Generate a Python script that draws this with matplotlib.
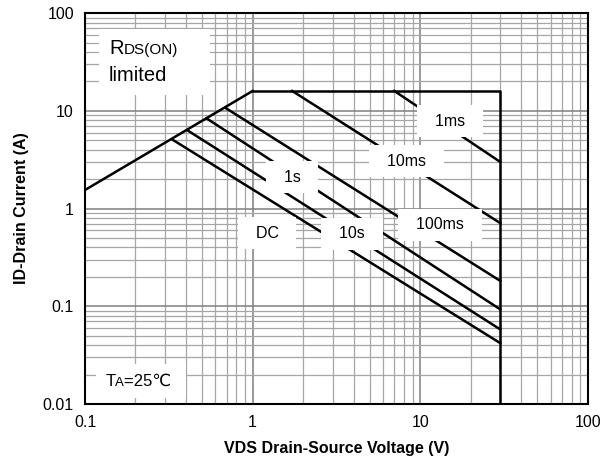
import matplotlib
matplotlib.use("Agg")
import matplotlib.pyplot as plt
from matplotlib.ticker import LogLocator, FixedLocator, FixedFormatter, NullFormatter
from matplotlib.offsetbox import TextArea, HPacker, VPacker, AnnotationBbox

plt.rcParams['font.family'] = ['Liberation Sans', 'DejaVu Sans']

# RDS(on) limit and package limits
rds_v = [0.1, 1.0]
rds_i = [1.55, 16.0]
limit_v = [1.0, 30.0, 30.0]
limit_i = [16.0, 16.0, 0.01]

# pulse-width lines
pulse_labels = ['1ms', '10ms', '100ms', '1s', '10s', 'DC']
pulse_v_start = [7.0, 1.72, 0.69, 0.53, 0.413, 0.336]
pulse_i_start = [16.0, 16.0, 10.7, 8.4, 6.25, 5.02]
pulse_v_end = [30.0, 30.0, 30.0, 30.0, 30.0, 30.0]
pulse_i_end = [3.0, 0.71, 0.182, 0.093, 0.058, 0.042]

# where each pulse label sits
label_v = [15.0, 8.3, 13.1, 1.72, 3.91, 1.22]
label_i = [7.86, 3.06, 0.68, 2.1, 0.55, 0.56]

x_ticks = [0.1, 1, 10, 100]
x_ticklabels = ['0.1', '1', '10', '100']
y_ticks = [0.01, 0.1, 1, 10, 100]
y_ticklabels = ['0.01', '0.1', '1', '10', '100']

fig = plt.figure(figsize=(6.03, 4.62), dpi=100)
ax = fig.add_axes([0.141, 0.1255, 0.834, 0.846])
ax.set_xscale('log')
ax.set_yscale('log')
ax.set_xlim(0.1, 100)
ax.set_ylim(0.01, 100)

ax.xaxis.set_major_locator(FixedLocator(x_ticks))
ax.xaxis.set_major_formatter(FixedFormatter(x_ticklabels))
ax.yaxis.set_major_locator(FixedLocator(y_ticks))
ax.yaxis.set_major_formatter(FixedFormatter(y_ticklabels))
for axis in (ax.xaxis, ax.yaxis):
    axis.set_minor_locator(LogLocator(base=10, subs=range(2, 10)))
    axis.set_minor_formatter(NullFormatter())

ax.grid(True, which='major', color='#7f7f7f', lw=1.1, zorder=0)
ax.grid(True, which='minor', color='#a6a6a6', lw=0.9, zorder=0)
ax.set_axisbelow(True)
ax.tick_params(which='both', length=0, labelsize=11.5, pad=8)

for sp in ax.spines.values():
    sp.set_linewidth(1.5)

ax.plot(rds_v, rds_i, color='black', lw=1.8, zorder=2)
ax.plot(limit_v, limit_i, color='black', lw=1.8, zorder=2)
for v0, i0, v1, i1 in zip(pulse_v_start, pulse_i_start, pulse_v_end, pulse_i_end):
    ax.plot([v0, v1], [i0, i1], color='black', lw=1.8, zorder=2)

for lab, v, i in zip(pulse_labels, label_v, label_i):
    ax.text(v, i, '  ' + lab + '  ', fontsize=11.5, ha='center', va='center', zorder=4,
            bbox=dict(boxstyle='square,pad=0.55', facecolor='white', edgecolor='none'))

# RDS(ON) limited note
big = dict(size=14.5, family=['Liberation Sans', 'DejaVu Sans'])
small = dict(size=11, family=['Liberation Sans', 'DejaVu Sans'])
row1 = HPacker(children=[TextArea('R', textprops=big), TextArea('DS(ON)', textprops=small),
                         TextArea('    ', textprops=big)],
               align='baseline', pad=0, sep=0)
row2 = TextArea('limited', textprops=big)
note = VPacker(children=[row1, row2], align='left', pad=0, sep=6)
ab = AnnotationBbox(note, (0.139, 40), xycoords='data', box_alignment=(0, 0.72),
                    frameon=True, pad=0.7, zorder=4,
                    bboxprops=dict(facecolor='white', edgecolor='none'))
ax.add_artist(ab)

# ambient temperature note
t_big = dict(size=12, family=['Liberation Sans', 'DejaVu Sans'])
t_small = dict(size=9.5, family=['Liberation Sans', 'DejaVu Sans'])
trow = HPacker(children=[TextArea('T', textprops=t_big), TextArea('A', textprops=t_small),
                         TextArea('=25℃ ', textprops=t_big)],
               align='baseline', pad=0, sep=0)
ab2 = AnnotationBbox(trow, (0.132, 0.0172), xycoords='data', box_alignment=(0, 0.5),
                     frameon=True, pad=0.7, zorder=4,
                     bboxprops=dict(facecolor='white', edgecolor='none'))
ax.add_artist(ab2)

ax.set_xlabel('VDS Drain-Source Voltage (V)', fontsize=11.5, fontweight='bold', labelpad=8)
ax.set_ylabel('ID-Drain Current (A)', fontsize=11.5, fontweight='bold', labelpad=10)

fig.savefig('out.png', dpi=100)
